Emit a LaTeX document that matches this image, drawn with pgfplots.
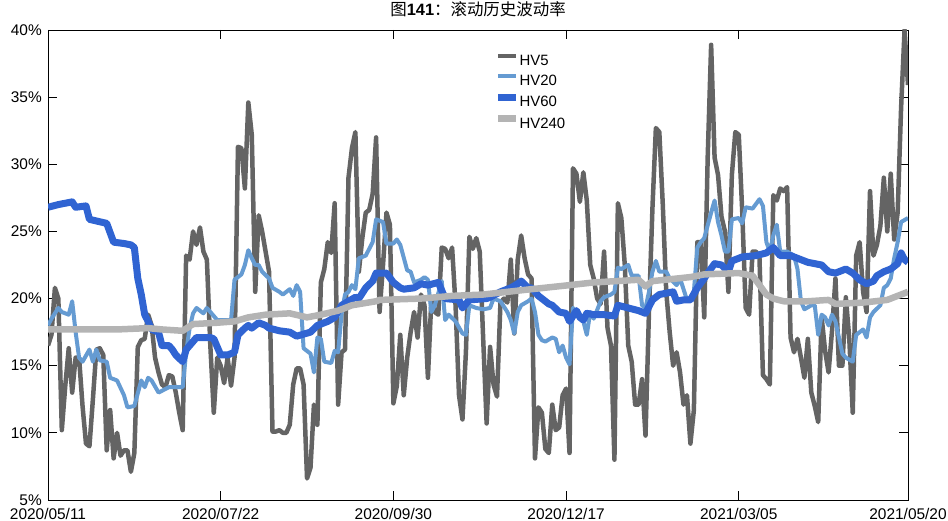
\documentclass[border=0pt]{standalone}
\usepackage{fontspec}
\setmainfont{Liberation Sans}
\newfontfamily\cjk{Noto Sans CJK SC}
\usepackage{pgfplots}
\pgfplotsset{compat=1.18}

\definecolor{hvfive}{RGB}{100,100,100}
\definecolor{hvtwenty}{RGB}{101,155,210}
\definecolor{hvsixty}{RGB}{48,100,210}
\definecolor{hvtwoforty}{RGB}{180,180,180}

\begin{document}
\begin{tikzpicture}
\begin{axis}[
  at={(0,0)}, anchor=south west,
  scale only axis, width=860bp, height=470bp,
  xmin=0, xmax=249, ymin=5, ymax=40,
  xtick={0,50,100,150,200,249},
  xticklabels={2020/05/11,2020/07/22,2020/09/30,2020/12/17,2021/03/05,2021/05/20},
  ytick={5,10,...,40},
  yticklabels={5\%,10\%,15\%,20\%,25\%,30\%,35\%,40\%},
  tick label style={font=\fontsize{15.5}{18}\selectfont},
  yticklabel style={inner sep=0pt, xshift=-6bp},
  xticklabel style={inner sep=0pt, yshift=-8bp},
  major tick length=9bp,
  tick style={black, line width=0.8bp},
  axis line style={line width=0.8bp},
  title={\cjk 图{\rmfamily\bfseries 141}：滚动历史波动率},
  title style={at={(0.5,1)}, anchor=base, yshift=9bp, font=\fontsize{16.5}{19}\selectfont},
  legend style={at={(0.519,0.95)}, anchor=north west, draw=none, fill=none,
    inner sep=0pt, row sep=8.5bp, font=\fontsize{15}{18}\selectfont,
    nodes={inner sep=0pt, text height=11bp, text depth=0bp},
    /tikz/every even column/.append style={column sep=0bp}},
  legend cell align=left,
  legend image code/.code={\draw[#1] (0bp,4bp) -- (18bp,4bp);},
  every axis plot/.append style={line join=round},
]
\addplot[hvfive, line width=4.5bp] coordinates {
(0,16.5)(1,17.3)(2,20.8)(3,20.0)(4,10.2)(5,13.5)(6,16.3)(7,13.0)(8,15.6)(9,15.6)
(10,12.0)(11,9.2)(12,9.0)(13,12.5)(14,16.2)(15,16.3)(16,15.8)(17,8.7)(18,11.7)(19,8.1)
(20,10.0)(21,8.3)(22,8.7)(23,8.7)(24,7.1)(25,8.5)(26,16.4)(27,16.9)(28,17.0)(29,18.8)
(30,18.0)(31,15.6)(32,14.5)(33,13.6)(34,13.4)(35,14.3)(36,14.2)(37,13.0)(38,11.5)(39,10.2)
(40,23.2)(41,22.9)(42,25.0)(43,24.0)(44,25.3)(45,23.5)(46,22.9)(47,16.5)(48,11.5)(49,15.6)
(50,15.0)(51,13.7)(52,15.6)(53,13.5)(54,15.6)(55,31.3)(56,31.2)(57,28.2)(58,34.6)(59,32.2)
(60,20.5)(61,26.2)(62,25.0)(63,23.5)(64,22.0)(65,10.1)(66,10.1)(67,10.2)(68,10.0)(69,10.0)
(70,10.6)(71,13.6)(72,14.8)(73,14.8)(74,13.6)(75,6.6)(76,7.4)(77,12.1)(78,10.6)(79,21.2)
(80,22.2)(81,24.2)(82,23.4)(83,27.1)(84,12.1)(85,16.0)(86,16.2)(87,29.0)(88,31.2)(89,32.4)
(90,22.0)(91,24.5)(92,26.4)(93,26.6)(94,27.8)(95,32.0)(96,19.0)(97,22.5)(98,26.4)(99,25.5)
(100,12.2)(101,13.5)(102,17.3)(103,12.8)(104,15.6)(105,17.5)(106,19.0)(107,17.1)(108,20.3)(109,19.5)
(110,14.1)(111,20.0)(112,19.0)(113,18.8)(114,23.8)(115,23.7)(116,23.0)(117,23.8)(118,19.5)(119,12.8)
(120,11.0)(121,16.0)(122,24.6)(123,23.7)(124,24.5)(125,23.5)(126,17.0)(127,10.7)(128,16.4)(129,13.6)
(130,12.7)(131,19.7)(132,20.0)(133,19.7)(134,22.9)(135,17.4)(136,22.9)(137,24.7)(138,23.0)(139,21.8)
(140,21.5)(141,8.1)(142,11.9)(143,11.5)(144,8.8)(145,8.5)(146,12.1)(147,10.2)(148,10.4)(149,12.8)
(150,13.3)(151,8.5)(152,29.7)(153,29.3)(154,27.2)(155,29.4)(156,27.3)(157,22.5)(158,21.5)(159,20.0)
(160,19.6)(161,23.5)(162,17.8)(163,16.5)(164,8.0)(165,27.1)(166,26.0)(167,22.5)(168,16.5)(169,15.3)
(170,12.1)(171,12.1)(172,14.0)(173,9.8)(174,19.0)(175,26.7)(176,32.7)(177,32.4)(178,27.0)(179,20.5)
(180,17.5)(181,15.0)(182,16.0)(183,14.5)(184,12.1)(185,12.8)(186,9.2)(187,11.7)(188,24.2)(189,24.2)
(190,18.6)(191,30.5)(192,38.9)(193,30.5)(194,29.2)(195,26.1)(196,25.0)(197,20.5)(198,29.2)(199,32.4)
(200,32.2)(201,26.5)(202,19.3)(203,18.8)(204,23.5)(205,23.5)(206,23.0)(207,14.3)(208,14.0)(209,13.6)
(210,27.7)(211,27.3)(212,28.2)(213,28.0)(214,28.3)(215,17.1)(216,16.0)(217,17.0)(218,15.6)(219,14.1)
(220,17.0)(221,13.0)(222,12.0)(223,10.8)(224,18.6)(225,16.1)(226,14.5)(227,17.6)(228,21.5)(229,15.0)
(230,15.0)(231,20.1)(232,17.0)(233,11.5)(234,23.2)(235,24.2)(236,20.5)(237,19.0)(238,28.0)(239,23.2)
(240,24.0)(241,25.4)(242,29.0)(243,25.0)(244,29.3)(245,24.4)(246,26.4)(247,34.2)(248,40.0)(249,35.9)
};
\addlegendentry{HV5}
\addplot[hvtwenty, line width=4bp] coordinates {
(0,18.0)(1,18.5)(3,19.3)(4,19.0)(6,18.8)(7,19.8)(8,17.5)(9,15.6)(10,15.3)(12,16.2)
(13,15.3)(14,16.2)(15,15.4)(17,15.3)(18,14.1)(20,13.9)(22,12.8)(23,11.9)(25,12.0)(27,13.9)
(28,13.4)(29,14.1)(30,13.9)(32,13.0)(35,13.4)(39,13.4)(40,16.0)(41,17.8)(42,18.9)(43,19.3)
(45,18.9)(46,19.3)(47,19.0)(49,18.4)(50,18.4)(53,18.4)(54,21.4)(56,21.8)(57,22.5)(58,23.6)
(59,23.0)(60,22.5)(61,22.5)(62,22.0)(64,21.5)(65,20.8)(67,20.5)(68,20.3)(70,20.7)(71,20.2)
(72,21.0)(73,20.5)(74,16.3)(76,15.9)(77,14.5)(78,17.1)(79,17.0)(80,15.3)(82,15.2)(83,16.1)
(84,16.0)(85,18.9)(86,20.3)(87,20.5)(88,21.0)(89,20.7)(90,23.0)(92,23.2)(94,24.2)(95,25.9)
(97,25.7)(98,24.1)(100,24.1)(101,24.4)(102,24.0)(104,22.1)(105,22.0)(106,21.2)(108,21.4)(109,21.6)
(110,21.4)(111,19.0)(112,19.5)(113,20.4)(114,21.3)(115,18.4)(116,18.8)(118,18.3)(120,17.4)(121,17.3)
(122,19.5)(124,19.3)(126,19.2)(128,19.3)(129,20.0)(131,19.8)(133,19.0)(134,18.4)(135,17.4)(136,19.0)
(137,19.5)(139,19.8)(140,20.0)(141,19.0)(142,17.3)(143,16.9)(144,16.8)(146,17.1)(147,17.0)(148,16.0)
(149,16.5)(150,15.6)(151,15.1)(152,19.3)(153,19.0)(155,18.3)(156,17.3)(157,19.0)(158,18.5)(160,19.8)
(161,20.1)(163,20.3)(164,20.5)(165,22.3)(166,22.2)(168,22.5)(169,21.7)(171,21.7)(172,19.5)(173,19.3)
(174,20.5)(175,22.0)(176,22.8)(177,22.0)(179,22.0)(180,21.5)(182,21.0)(183,21.5)(185,19.9)(186,19.9)
(187,20.5)(188,23.8)(189,24.2)(190,24.5)(192,26.4)(193,27.3)(194,25.7)(195,24.7)(196,23.5)(197,23.5)
(198,25.9)(200,26.0)(201,25.6)(202,26.8)(204,26.7)(206,27.4)(207,26.9)(208,24.2)(209,23.5)(210,24.7)
(211,25.5)(212,23.5)(214,23.5)(216,23.2)(217,22.2)(218,19.8)(219,19.2)(221,19.5)(222,19.5)(223,17.3)
(224,18.8)(225,18.6)(226,18.0)(227,18.8)(228,18.3)(230,15.9)(231,15.6)(233,15.3)(234,17.3)(236,17.7)
(237,17.1)(238,18.6)(239,19.0)(241,19.5)(242,20.8)(243,21.0)(244,21.5)(245,23.0)(246,24.2)(247,25.7)
(249,26.0)
};
\addlegendentry{HV20}
\addplot[hvsixty, line width=7bp] coordinates {
(0,26.8)(3,27.0)(7,27.2)(8,26.8)(11,26.9)(12,25.9)(17,25.6)(19,24.2)(22,24.1)(24,24.0)
(25,23.8)(26,21.5)(27,20.3)(28,18.8)(29,18.3)(30,17.7)(32,17.5)(33,16.5)(35,16.5)(36,16.2)
(37,15.8)(39,15.3)(40,16.2)(42,16.8)(43,17.1)(47,17.1)(48,17.0)(50,15.8)(52,15.8)(54,16.0)
(55,17.3)(57,17.8)(58,18.0)(59,17.8)(61,18.2)(63,18.0)(64,17.8)(67,17.6)(70,17.5)(72,17.2)
(76,17.5)(78,18.0)(81,18.3)(83,18.6)(85,19.5)(87,19.8)(89,20.1)(90,20.0)(92,20.8)(94,21.3)
(95,21.9)(98,21.9)(100,21.2)(102,20.8)(103,20.7)(106,20.8)(108,21.1)(110,21.0)(113,21.2)(115,20.0)
(119,19.9)(120,19.3)(122,19.9)(127,20.0)(128,20.1)(131,20.5)(134,20.8)(136,21.1)(137,21.3)(139,20.8)
(140,20.8)(142,20.2)(145,19.6)(146,19.5)(148,19.0)(150,18.9)(151,18.3)(153,19.1)(154,18.6)(155,18.4)
(156,18.9)(158,18.8)(161,18.8)(164,18.7)(165,19.5)(168,19.3)(171,19.1)(173,18.9)(175,19.9)(177,20.3)
(181,20.5)(182,19.8)(184,19.9)(186,19.9)(188,20.8)(190,21.5)(191,21.9)(193,22.6)(195,22.5)(197,22.0)
(198,22.8)(201,23.1)(205,23.2)(208,23.4)(210,23.8)(212,23.2)(215,23.2)(217,23.0)(220,22.7)(222,22.6)
(224,22.5)(226,22.0)(228,21.9)(231,22.2)(233,21.9)(235,21.4)(237,21.1)(239,21.3)(240,21.7)(242,22.0)
(244,22.2)(246,22.6)(247,23.4)(248,22.9)(249,22.7)
};
\addlegendentry{HV60}
\addplot[hvtwoforty, line width=6.5bp] coordinates {
(0,17.7)(20,17.7)(29,17.8)(33,17.7)(39,17.6)(42,18.1)(49,18.2)(54,18.3)(58,18.6)(63,18.8)
(70,18.9)(75,18.6)(79,18.8)(84,19.1)(88,19.5)(95,19.8)(96,19.9)(108,20.0)(117,20.2)(126,20.3)
(140,20.7)(151,21.0)(158,21.2)(171,21.4)(173,20.9)(175,21.3)(186,21.6)(190,21.8)(200,21.9)(204,21.7)
(208,20.3)(210,20.0)(213,19.8)(220,19.8)(226,19.9)(228,19.6)(236,19.7)(243,19.9)(246,20.2)(249,20.5)
};
\addlegendentry{HV240}
\end{axis}
\pgfresetboundingbox
\useasboundingbox (-48bp,-21bp) rectangle (900bp,500bp);
\end{tikzpicture}
\end{document}
